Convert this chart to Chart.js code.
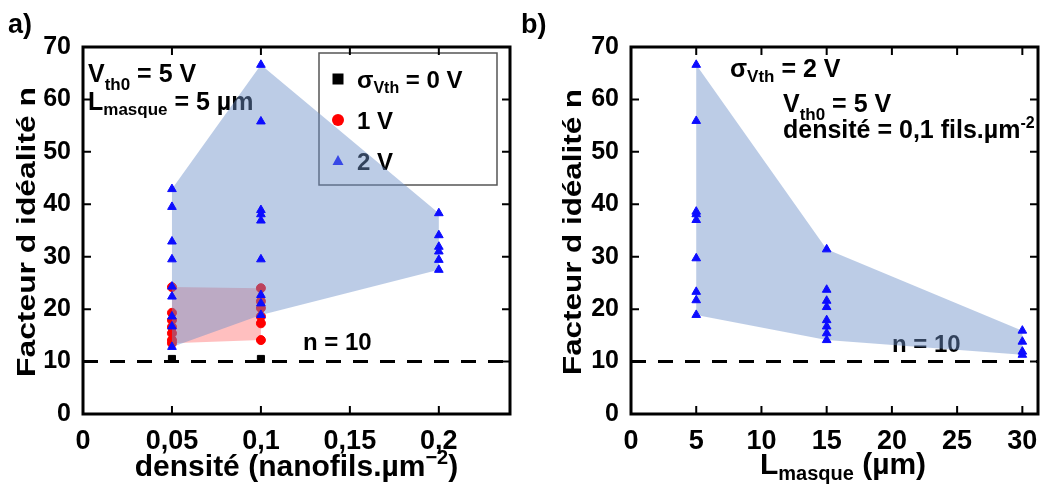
<!DOCTYPE html>
<html>
<head>
<meta charset="utf-8">
<script src="https://cdn.jsdelivr.net/npm/chart.js@4.4.1/dist/chart.umd.min.js"></script>
<style>
  html, body { margin: 0; padding: 0; background: #fff; }
  #wrap { position: relative; width: 1044px; height: 488px; overflow: hidden; }
  .panel { position: absolute; top: 0; height: 488px; }
</style>
</head>
<body>
<div id="wrap">
  <div class="panel" style="left:0;width:516px"><canvas id="chartA" width="516" height="488"></canvas></div>
  <div class="panel" style="left:516px;width:528px"><canvas id="chartB" width="528" height="488"></canvas></div>
</div>
<script>
// Data
const nTicks = [0, 10, 20, 30, 40, 50, 60, 70];
const densityTicks = [0, 0.05, 0.1, 0.15, 0.2];
const lengthTicks = [0, 5, 10, 15, 20, 25, 30];
const idealN = 10;
const densityMax = 0.24;
const lengthMax = 31.2;

// a) n vs density (Lmasque = 5 µm), one list of n per density
const densities = [0.05, 0.1, 0.2];
const sigma0N = [[10.5], [10.5], []];
const sigma1N = [
  [24.2, 19.3, 17.9, 16.6, 15.4, 14.1, 13.5],
  [24.0, 21.5, 20.2, 18.6, 17.3, 14.1],
  [],
];
const sigma2N = [
  [42.9, 39.5, 32.9, 29.5, 24.3, 22.4, 18.6, 16.7, 12.8],
  [66.6, 55.8, 38.9, 38.1, 36.9, 29.5, 22.7, 21.1, 18.9],
  [38.3, 34.1, 31.9, 31.0, 29.4, 27.5],
];

// b) n vs Lmasque (sigma = 2 V, density = 0.1)
const lengths = [5, 15, 30];
const sigma2NByLength = [
  [66.6, 55.9, 38.6, 38.1, 37.0, 29.7, 23.3, 21.7, 18.9],
  [31.4, 23.7, 21.6, 20.4, 17.9, 16.7, 15.4, 14.1],
  [15.9, 13.8, 11.9, 11.3],
];

const BLUE = "#0c0cff";
const RED = "#ff0000";
const BLUE_FILL = "rgba(109,144,200,0.46)";
const RED_FILL = "rgba(255,0,0,0.25)";
const FAMILY = '"Liberation Sans", Arial, sans-serif';

function toPoints(xs, groups) {
  const pts = [];
  xs.forEach((x, i) => groups[i].forEach((y) => pts.push({ x, y })));
  return pts;
}

// max values left to right, then min values back
function envelope(xs, groups) {
  const top = [];
  const bottom = [];
  xs.forEach((x, i) => {
    if (!groups[i].length) return;
    top.push({ x, y: Math.max(...groups[i]) });
    bottom.unshift({ x, y: Math.min(...groups[i]) });
  });
  return top.concat(bottom);
}

function font(size) {
  return `bold ${size}px ${FAMILY}`;
}

function richWidth(ctx, parts) {
  let w = 0;
  parts.forEach(([t, size]) => {
    ctx.font = font(size);
    w += ctx.measureText(t).width;
  });
  return w;
}

function drawRich(ctx, x, y, parts) {
  ctx.save();
  ctx.fillStyle = "#000";
  ctx.textAlign = "left";
  ctx.textBaseline = "alphabetic";
  parts.forEach(([t, size, dy]) => {
    ctx.font = font(size);
    ctx.fillText(t, x, y + (dy || 0));
    x += ctx.measureText(t).width;
  });
  ctx.restore();
}

function drawMarker(ctx, style, color, x, y) {
  ctx.save();
  ctx.fillStyle = color;
  ctx.beginPath();
  if (style === "rect") ctx.rect(x - 5.5, y - 5.5, 11, 11);
  else if (style === "circle") ctx.arc(x, y, 6, 0, Math.PI * 2);
  else {
    ctx.moveTo(x, y - 6);
    ctx.lineTo(x + 5.5, y + 4);
    ctx.lineTo(x - 5.5, y + 4);
    ctx.closePath();
  }
  ctx.fill();
  ctx.restore();
}

// Text and legend placed per panel (canvas pixels)
const panelDecor = {
  chartA: {
    label: ["a)", 8, 33],
    notes: [
      { x: 88, y: 82, parts: [["V", 25], ["th0", 17, 8], [" = 5 V", 25]] },
      { x: 88, y: 110, parts: [["L", 25], ["masque", 17, 5], [" = 5 µm", 25]] },
      { x: 303, y: 350, parts: [["n = 10", 24]] },
    ],
    legend: {
      box: [319, 53, 178, 132],
      items: [
        { style: "rect", color: "#000", y: 79, parts: [["σ", 24], ["Vth", 16, 5], [" = 0 V", 24]] },
        { style: "circle", color: RED, y: 120, parts: [["1 V", 24]] },
        { style: "triangle", color: BLUE, y: 161, parts: [["2 V", 24]] },
      ],
    },
    xTitle: { cx: 296.5, y: 476, parts: [["densité (nanofils.µm", 30], ["−2", 20, -12], [")", 30]] },
    yTitle: { x: 35, cy: 232, len: 290, size: 26, text: "Facteur d idéalité n" },
  },
  chartB: {
    label: ["b)", 5, 33],
    notes: [
      { x: 214, y: 77, parts: [["σ", 25], ["Vth", 17, 5], [" = 2 V", 25]] },
      { x: 267, y: 112, parts: [["V", 25], ["th0", 17, 8], [" = 5 V", 25]] },
      { x: 267, y: 138, parts: [["densité = 0,1 fils.µm", 25], ["-2", 16, -10]] },
      { x: 376, y: 352, parts: [["n = 10", 24]] },
    ],
    xTitle: { cx: 327, y: 474, parts: [["L", 30], ["masque", 20, 6], [" (µm)", 30]] },
    yTitle: { x: 65, cy: 232, len: 286, size: 26, text: "Facteur d idéalité n" },
  },
};

const decorations = {
  id: "decorations",
  beforeDatasetsDraw(chart) {
    const d = panelDecor[chart.canvas.id];
    const ctx = chart.ctx;
    d.notes.forEach((n) => drawRich(ctx, n.x, n.y, n.parts));
    if (d.legend) {
      const [bx, by, bw, bh] = d.legend.box;
      ctx.save();
      ctx.strokeStyle = "#555";
      ctx.lineWidth = 1.5;
      ctx.strokeRect(bx, by, bw, bh);
      ctx.restore();
      d.legend.items.forEach((it) => {
        drawMarker(ctx, it.style, it.color, bx + 19, it.y);
        drawRich(ctx, bx + 38, it.y + 9, it.parts);
      });
    }
  },
  afterDatasetsDraw(chart) {
    const ctx = chart.ctx;
    const { left, right, top, bottom } = chart.chartArea;
    const xs = chart.scales.x;
    const ys = chart.scales.y;
    ctx.save();
    ctx.strokeStyle = "#000";
    ctx.lineWidth = 3;
    ctx.strokeRect(left, top, right - left, bottom - top);
    ctx.lineWidth = 2;
    ctx.beginPath();
    xs.ticks.forEach((t) => {
      const px = xs.getPixelForValue(t.value);
      ctx.moveTo(px, top);
      ctx.lineTo(px, top + 8);
      ctx.moveTo(px, bottom);
      ctx.lineTo(px, bottom - 8);
    });
    ys.ticks.forEach((t) => {
      const py = ys.getPixelForValue(t.value);
      ctx.moveTo(left, py);
      ctx.lineTo(left + 8, py);
      ctx.moveTo(right, py);
      ctx.lineTo(right - 8, py);
    });
    ctx.stroke();
    ctx.restore();
  },
  afterDraw(chart) {
    const d = panelDecor[chart.canvas.id];
    const ctx = chart.ctx;
    drawRich(ctx, d.label[1], d.label[2], [[d.label[0], 27]]);

    const xt = d.xTitle;
    drawRich(ctx, xt.cx - richWidth(ctx, xt.parts) / 2, xt.y, xt.parts);

    // y title is stretched along its length in the reference
    const yt = d.yTitle;
    ctx.save();
    ctx.font = font(yt.size);
    const w = ctx.measureText(yt.text).width;
    ctx.translate(yt.x, yt.cy);
    ctx.rotate(-Math.PI / 2);
    ctx.scale(yt.len / w, 1);
    ctx.fillStyle = "#000";
    ctx.textAlign = "center";
    ctx.textBaseline = "alphabetic";
    ctx.fillText(yt.text, 0, 0);
    ctx.restore();
  },
};

function hullSet(data, color, order) {
  return {
    type: "line",
    data,
    showLine: true,
    fill: "shape",
    backgroundColor: color,
    borderWidth: 0,
    borderColor: "rgba(0,0,0,0)",
    pointRadius: 0,
    tension: 0,
    order,
  };
}

function dashSet(xMax) {
  return {
    type: "line",
    data: [{ x: 0, y: idealN }, { x: xMax, y: idealN }],
    borderColor: "#000",
    borderWidth: 3,
    borderDash: [15, 12],
    pointRadius: 0,
    fill: false,
    order: 6,
  };
}

function pointSet(data, style, color, radius, order) {
  return {
    data,
    pointStyle: style,
    pointRadius: radius,
    backgroundColor: color,
    borderColor: color,
    borderWidth: 1,
    order,
  };
}

function axes(xTicks, xMax, yWidth, xFmt) {
  const tickFont = (size) => ({ size, weight: "bold", family: FAMILY });
  return {
    x: {
      type: "linear",
      min: 0,
      max: xMax,
      grid: { display: false },
      border: { display: false },
      ticks: {
        color: "#000",
        font: tickFont(27),
        padding: 3,
        maxRotation: 0,
        autoSkip: false,
        callback: xFmt,
      },
      afterBuildTicks: (s) => { s.ticks = xTicks.map((v) => ({ value: v })); },
      afterFit: (s) => {
        s.height = 74;
        s.paddingLeft = 0;
        s.paddingRight = 0;
      },
    },
    y: {
      type: "linear",
      min: 0,
      max: 70,
      grid: { display: false },
      border: { display: false },
      ticks: { color: "#000", font: tickFont(25), padding: 4 },
      afterBuildTicks: (s) => { s.ticks = nTicks.map((v) => ({ value: v })); },
      afterFit: (s) => {
        s.width = yWidth;
        s.paddingTop = 0;
        s.paddingBottom = 0;
      },
    },
  };
}

const baseOptions = {
  responsive: false,
  animation: false,
  plugins: { legend: { display: false }, tooltip: { enabled: false } },
};

// a) density
new Chart(document.getElementById("chartA"), {
  type: "scatter",
  data: {
    datasets: [
      pointSet(toPoints(densities, sigma2N), "triangle", BLUE, 5, 1),
      pointSet(toPoints(densities, sigma0N), "rect", "#000", 5, 2),
      hullSet(envelope(densities, sigma2N), BLUE_FILL, 4),
      pointSet(toPoints(densities, sigma1N), "circle", RED, 4.5, 5),
      dashSet(densityMax),
      hullSet(envelope(densities, sigma1N), RED_FILL, 7),
    ],
  },
  options: {
    ...baseOptions,
    layout: { padding: { left: 0, right: 6, top: 47, bottom: 0 } },
    scales: axes(densityTicks, densityMax, 83, (v) => String(v).replace(".", ",")),
  },
  plugins: [decorations],
});

// b) Lmasque
new Chart(document.getElementById("chartB"), {
  type: "scatter",
  data: {
    datasets: [
      pointSet(toPoints(lengths, sigma2NByLength), "triangle", BLUE, 5, 1),
      hullSet(envelope(lengths, sigma2NByLength), BLUE_FILL, 4),
      dashSet(lengthMax),
    ],
  },
  options: {
    ...baseOptions,
    layout: { padding: { left: 0, right: 0, top: 47, bottom: 0 } },
    scales: axes(lengthTicks, lengthMax, 115, (v) => String(v)),
  },
  plugins: [decorations],
});
</script>
</body>
</html>
